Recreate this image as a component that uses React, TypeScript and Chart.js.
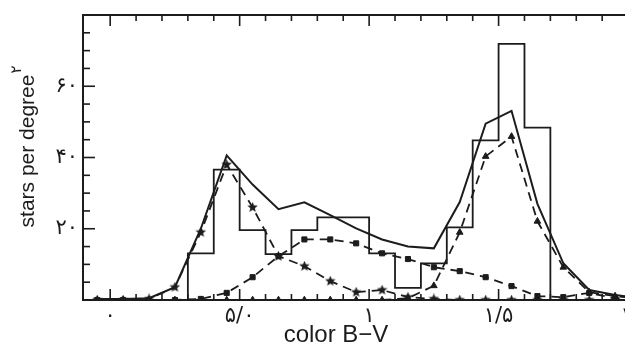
import React, { useEffect, useRef } from 'react';
import { Chart, registerables } from 'chart.js';

Chart.register(...registerables);

// B-V colour at which the model curves are sampled
const colorBV = [-0.05, 0.05, 0.15, 0.25, 0.35, 0.45, 0.55, 0.65, 0.75, 0.85, 0.95, 1.05, 1.15, 1.25, 1.35, 1.45, 1.55, 1.65, 1.75, 1.85, 1.95, 2.05];
// total model (solid line)
const totalStars = [0.3, 0.3, 0.5, 3.6, 20, 40.6, 32.4, 25.5, 27.4, 23.8, 20.1, 17, 15, 14.5, 27.5, 49.5, 53.1, 27, 10.3, 2.8, 1.4, 0.5];
// component with star markers
const starComponent = [0, 0, 0.3, 3.6, 19, 38, 26, 12.3, 9.5, 5.3, 2.2, 2.8, 0.8, 0.3, 0, 0, 0, 0, 0, 0, 0, 0];
// component with square markers
const squareComponent = [0, 0, 0, 0, 0.3, 2, 6.4, 12.3, 17, 17, 15.9, 13.1, 11.5, 9.2, 8.1, 6.4, 3.9, 1.1, 0.8, 2, 0.5, 0.3];
// component with triangle markers
const triangleComponent = [0, 0, 0, 0, 0, 0, 0, 0, 0, 0, 0, 0, 0.5, 4, 19, 40.3, 45.9, 22.1, 9.2, 2.2, 1.1, 0.3];

// observed histogram
const binEdges = [0.3, 0.4, 0.5, 0.6, 0.7, 0.8, 0.9, 1.0, 1.1, 1.2, 1.3, 1.4, 1.5, 1.6, 1.7];
const binCounts = [13.1, 36.6, 19.6, 12.9, 19.6, 23.2, 23.2, 13.1, 3.4, 10.3, 20.4, 44.8, 71.9, 48.4];

const xTickValues = [0, 0.5, 1, 1.5, 2];
const xTickLabels = ['۰', '۵/۰', '۱', '۱/۵', '۲'];
const yTickValues = [20, 40, 60];
const yTickLabels = ['۲۰', '۴۰', '۶۰'];
const xTitle = 'color B−V';
const yTitle = 'stars per degree';
const yTitleSup = '۲';

const INK = '#1c1c1c';

function makeStar(size: number) {
  const c = document.createElement('canvas');
  c.width = size;
  c.height = size;
  const g = c.getContext('2d')!;
  g.fillStyle = INK;
  g.beginPath();
  for (let k = 0; k < 10; k++) {
    const r = k % 2 === 0 ? size / 2 : size / 4.6;
    const a = -Math.PI / 2 + (k * Math.PI) / 5;
    g.lineTo(size / 2 + r * Math.cos(a), size / 2 + r * Math.sin(a));
  }
  g.closePath();
  g.fill();
  return c;
}

const framePlugin = {
  id: 'framePlugin',
  afterDraw(chart: any) {
    const { ctx, chartArea: a, scales } = chart;
    const x = scales.x;
    const y = scales.y;
    ctx.save();
    ctx.strokeStyle = INK;
    ctx.lineWidth = 2;
    ctx.strokeRect(a.left, a.top, a.right - a.left, a.bottom - a.top);
    const seg = (x1: number, y1: number, x2: number, y2: number) => {
      ctx.beginPath();
      ctx.moveTo(x1, y1);
      ctx.lineTo(x2, y2);
      ctx.stroke();
    };
    ctx.lineWidth = 1.6;
    for (let k = 0; k <= 20; k++) {
      const px = x.getPixelForValue(k / 10);
      const len = k % 5 === 0 ? 11 : 6;
      seg(px, a.bottom, px, a.bottom - len);
      seg(px, a.top, px, a.top + len);
    }
    for (let v = 5; v < 80; v += 5) {
      const py = y.getPixelForValue(v);
      const len = v % 20 === 0 ? 12 : 7;
      seg(a.left, py, a.left + len, py);
      seg(a.right, py, a.right - len, py);
    }
    ctx.fillStyle = INK;
    ctx.font = '21px "DejaVu Sans"';
    ctx.textAlign = 'center';
    ctx.textBaseline = 'middle';
    xTickValues.forEach((v, i) => {
      ctx.fillText(xTickLabels[i], x.getPixelForValue(v), a.bottom + 17);
    });
    ctx.textAlign = 'right';
    yTickValues.forEach((v, i) => {
      ctx.fillText(yTickLabels[i], a.left - 5, y.getPixelForValue(v));
    });
    // x title
    ctx.font = '24px "Liberation Sans"';
    ctx.textAlign = 'center';
    ctx.textBaseline = 'alphabetic';
    ctx.fillText(xTitle, 328, 334);
    // y title
    ctx.save();
    ctx.translate(26, 143);
    ctx.rotate(-Math.PI / 2);
    ctx.font = '21px "Liberation Sans"';
    ctx.textAlign = 'center';
    ctx.fillText(yTitle, 0, 0);
    const w = ctx.measureText(yTitle).width;
    ctx.font = '15px "DejaVu Sans"';
    ctx.textAlign = 'left';
    ctx.fillText(yTitleSup, w / 2 + 1, -13);
    ctx.restore();
    ctx.restore();
  },
};

export default function App() {
  const ref = useRef<HTMLCanvasElement>(null);
  useEffect(() => {
    if (!ref.current) return;
    const histPoints: { x: number; y: number }[] = [{ x: binEdges[0], y: 0 }];
    binCounts.forEach((v, i) => histPoints.push({ x: binEdges[i], y: v }));
    histPoints.push({ x: binEdges[binEdges.length - 1], y: binCounts[binCounts.length - 1] });
    histPoints.push({ x: binEdges[binEdges.length - 1], y: 0 });
    const pts = (vals: number[]) => colorBV.map((x, i) => ({ x, y: vals[i] }));
    const starImg = makeStar(11);
    const dash = [9, 6];
    const chart = new Chart(ref.current, {
      type: 'scatter',
      data: {
        datasets: [
          { data: histPoints, showLine: true, stepped: true, borderColor: INK, borderWidth: 1.8, pointRadius: 0, fill: false },
          { data: pts(totalStars), showLine: true, borderColor: INK, borderWidth: 2, pointRadius: 0, fill: false },
          { data: pts(starComponent), showLine: true, borderColor: INK, borderWidth: 1.8, borderDash: dash, pointStyle: starImg as any, pointRadius: 5, pointBackgroundColor: INK, pointBorderColor: INK },
          { data: pts(squareComponent), showLine: true, borderColor: INK, borderWidth: 1.8, borderDash: dash, pointStyle: 'rect', pointRadius: 3.6, pointBackgroundColor: INK, pointBorderColor: INK, pointBorderWidth: 1 },
          { data: pts(triangleComponent), showLine: true, borderColor: INK, borderWidth: 1.8, borderDash: dash, pointStyle: 'triangle', pointRadius: 3.8, pointBackgroundColor: INK, pointBorderColor: INK, pointBorderWidth: 1 },
        ] as any,
      },
      options: {
        animation: false,
        responsive: false,
        devicePixelRatio: 1,
        layout: { padding: { left: 75, top: 7, right: 47, bottom: 58 } },
        plugins: { legend: { display: false }, tooltip: { enabled: false } },
        elements: { line: { tension: 0 } },
        scales: {
          x: { type: 'linear', min: -0.105, max: 2.05, display: false },
          y: { type: 'linear', min: 0, max: 80, display: false },
        },
      },
      plugins: [framePlugin],
    });
    return () => chart.destroy();
  }, []);
  return (
    <div style={{ width: 625, height: 350, overflow: 'hidden', position: 'relative', background: '#fff' }}>
      <canvas ref={ref} width={680} height={350} style={{ display: 'block', width: 680, height: 350 }} />
    </div>
  );
}
